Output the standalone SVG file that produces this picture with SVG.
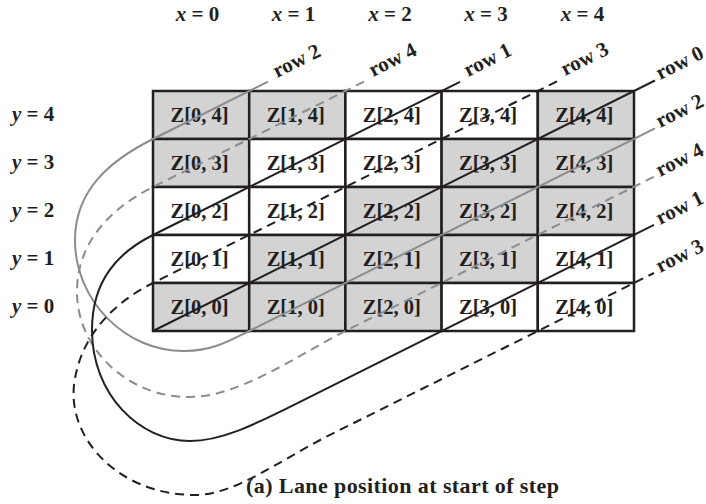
<svg xmlns="http://www.w3.org/2000/svg" width="706" height="504" viewBox="0 0 706 504">
<style>
text{font-family:"Liberation Serif","Times New Roman",serif;font-weight:bold;fill:#231f20}
.lbl{font-size:21px}
.cell{font-size:20.5px;text-anchor:middle}
.row{font-size:21px}
.g{fill:#d3d3d3;stroke:#231f20;stroke-width:2.5}
.w{fill:#ffffff;stroke:#231f20;stroke-width:2.5}
.ln{fill:none;stroke-width:2;stroke-linejoin:round}
.blk{stroke:#231f20}
.gry{stroke:#8c8c8c}
.dash{stroke-dasharray:9 6}
</style>
<rect width="706" height="504" fill="#ffffff"/>
<g id="xlabels">
<text class="lbl" x="197.5" y="21" text-anchor="middle"><tspan font-style="italic">x</tspan> = 0</text>
<text class="lbl" x="293.5" y="21" text-anchor="middle"><tspan font-style="italic">x</tspan> = 1</text>
<text class="lbl" x="390" y="21" text-anchor="middle"><tspan font-style="italic">x</tspan> = 2</text>
<text class="lbl" x="486" y="21" text-anchor="middle"><tspan font-style="italic">x</tspan> = 3</text>
<text class="lbl" x="582.5" y="21" text-anchor="middle"><tspan font-style="italic">x</tspan> = 4</text>
</g>
<g id="ylabels">
<text class="lbl" x="12" y="121"><tspan font-style="italic">y</tspan> = 4</text>
<text class="lbl" x="12" y="169"><tspan font-style="italic">y</tspan> = 3</text>
<text class="lbl" x="12" y="217"><tspan font-style="italic">y</tspan> = 2</text>
<text class="lbl" x="12" y="265"><tspan font-style="italic">y</tspan> = 1</text>
<text class="lbl" x="12" y="313"><tspan font-style="italic">y</tspan> = 0</text>
</g>
<g id="cells">
<g id="z04"><rect class="g" x="153" y="91" width="96.2" height="48"/><text class="cell" x="199.5" y="122">Z[0, 4]</text></g>
<g id="z14"><rect class="g" x="249.2" y="91" width="96.2" height="48"/><text class="cell" x="295.7" y="122">Z[1, 4]</text></g>
<g id="z24"><rect class="w" x="345.4" y="91" width="96.2" height="48"/><text class="cell" x="391.9" y="122">Z[2, 4]</text></g>
<g id="z34"><rect class="w" x="441.6" y="91" width="96.2" height="48"/><text class="cell" x="488.1" y="122">Z[3, 4]</text></g>
<g id="z44"><rect class="g" x="537.8" y="91" width="96.2" height="48"/><text class="cell" x="584.3" y="122">Z[4, 4]</text></g>
<g id="z03"><rect class="g" x="153" y="139" width="96.2" height="48"/><text class="cell" x="199.5" y="170">Z[0, 3]</text></g>
<g id="z13"><rect class="w" x="249.2" y="139" width="96.2" height="48"/><text class="cell" x="295.7" y="170">Z[1, 3]</text></g>
<g id="z23"><rect class="w" x="345.4" y="139" width="96.2" height="48"/><text class="cell" x="391.9" y="170">Z[2, 3]</text></g>
<g id="z33"><rect class="g" x="441.6" y="139" width="96.2" height="48"/><text class="cell" x="488.1" y="170">Z[3, 3]</text></g>
<g id="z43"><rect class="g" x="537.8" y="139" width="96.2" height="48"/><text class="cell" x="584.3" y="170">Z[4, 3]</text></g>
<g id="z02"><rect class="w" x="153" y="187" width="96.2" height="48"/><text class="cell" x="199.5" y="218">Z[0, 2]</text></g>
<g id="z12"><rect class="w" x="249.2" y="187" width="96.2" height="48"/><text class="cell" x="295.7" y="218">Z[1, 2]</text></g>
<g id="z22"><rect class="g" x="345.4" y="187" width="96.2" height="48"/><text class="cell" x="391.9" y="218">Z[2, 2]</text></g>
<g id="z32"><rect class="g" x="441.6" y="187" width="96.2" height="48"/><text class="cell" x="488.1" y="218">Z[3, 2]</text></g>
<g id="z42"><rect class="g" x="537.8" y="187" width="96.2" height="48"/><text class="cell" x="584.3" y="218">Z[4, 2]</text></g>
<g id="z01"><rect class="w" x="153" y="235" width="96.2" height="48"/><text class="cell" x="199.5" y="266">Z[0, 1]</text></g>
<g id="z11"><rect class="g" x="249.2" y="235" width="96.2" height="48"/><text class="cell" x="295.7" y="266">Z[1, 1]</text></g>
<g id="z21"><rect class="g" x="345.4" y="235" width="96.2" height="48"/><text class="cell" x="391.9" y="266">Z[2, 1]</text></g>
<g id="z31"><rect class="g" x="441.6" y="235" width="96.2" height="48"/><text class="cell" x="488.1" y="266">Z[3, 1]</text></g>
<g id="z41"><rect class="w" x="537.8" y="235" width="96.2" height="48"/><text class="cell" x="584.3" y="266">Z[4, 1]</text></g>
<g id="z00"><rect class="g" x="153" y="283" width="96.2" height="48"/><text class="cell" x="199.5" y="314">Z[0, 0]</text></g>
<g id="z10"><rect class="g" x="249.2" y="283" width="96.2" height="48"/><text class="cell" x="295.7" y="314">Z[1, 0]</text></g>
<g id="z20"><rect class="g" x="345.4" y="283" width="96.2" height="48"/><text class="cell" x="391.9" y="314">Z[2, 0]</text></g>
<g id="z30"><rect class="w" x="441.6" y="283" width="96.2" height="48"/><text class="cell" x="488.1" y="314">Z[3, 0]</text></g>
<g id="z40"><rect class="w" x="537.8" y="283" width="96.2" height="48"/><text class="cell" x="584.3" y="314">Z[4, 0]</text></g>
</g>
<g id="connectors">
<path id="row0" class="ln blk" d="M655,80.5 L153,331"/>
<path id="row2" class="ln gry" d="M268,81.6 L153,139 C110,160.5 75,190 75,240 C75,300 125,352 185,351 C212,351 229,341 249.2,331 L655,128.4"/>
<path id="row4" class="ln gry dash" d="M364,81.7 L153,187 C120,203.5 78,235 77,290 C76,350 130,398 190,397 C240,397 300,353.7 345.4,331 L654,176.7"/>
<path id="row1" class="ln blk" d="M460,81.8 L153,235 C118,252.5 92,280 92,330 C92,395 140,441 190,441 C220,441 250,427 300,401.8 L654,224.9"/>
<path id="row3" class="ln blk dash" d="M557,81.4 L153,283 C115,302 80,335 74,385 C68,440 120,495 195,495 C235,495 280,460 330,434.9 L654,273"/>
</g>
<g id="rowlabels">
<text class="row" x="277" y="78" transform="rotate(-26.57 277 78)">row 2</text>
<text class="row" x="373" y="77" transform="rotate(-26.57 373 77)">row 4</text>
<text class="row" x="468" y="77" transform="rotate(-26.57 468 77)">row 1</text>
<text class="row" x="565" y="76" transform="rotate(-26.57 565 76)">row 3</text>
<text class="row" x="660" y="80" transform="rotate(-26.57 660 80)">row 0</text>
<text class="row" x="660" y="128" transform="rotate(-26.57 660 128)">row 2</text>
<text class="row" x="660" y="177" transform="rotate(-26.57 660 177)">row 4</text>
<text class="row" x="660" y="225" transform="rotate(-26.57 660 225)">row 1</text>
<text class="row" x="660" y="273" transform="rotate(-26.57 660 273)">row 3</text>
</g>
<text id="caption" x="246" y="493" style="font-size:22px" textLength="313" lengthAdjust="spacing">(a) Lane position at start of step</text>
</svg>
